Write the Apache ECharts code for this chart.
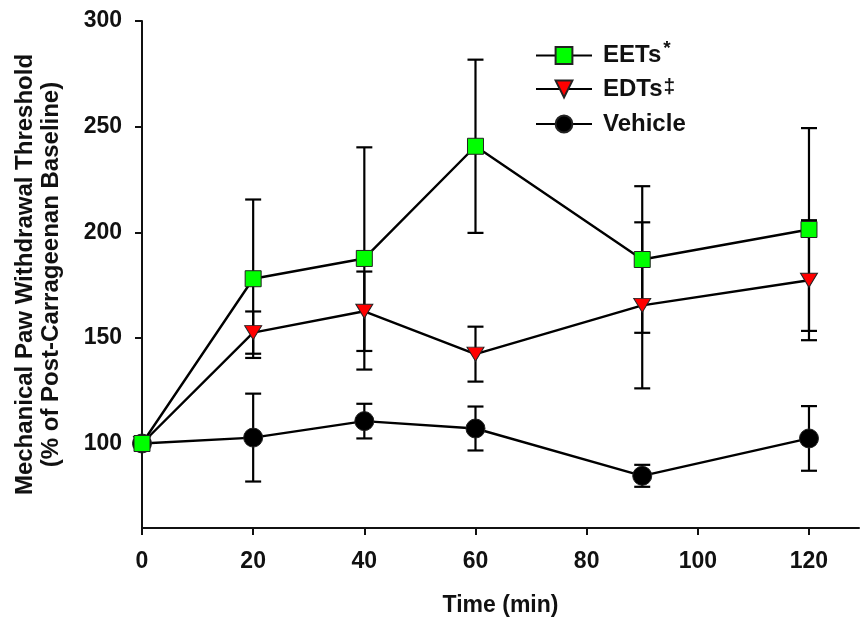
<!DOCTYPE html>
<html>
<head>
<meta charset="utf-8">
<script src="https://cdn.jsdelivr.net/npm/echarts@6/dist/echarts.min.js"></script>
<style>
  html, body { margin: 0; padding: 0; background: #fff; }
  #chart { width: 860px; height: 622px; }
</style>
</head>
<body>
<div id="chart"></div>
<script>
const times = [0, 20, 40, 60, 90, 120];
const eetsMean = [100, 178, 187.6, 240.7, 187.1, 201.3];
const eetsSem = [0, 37.5, 52.6, 41, 34.7, 48];
const edtsMean = [100, 152.5, 162.6, 142.3, 165.4, 177.3];
const edtsSem = [0, 10, 18.8, 13, 39.3, 28.4];
const vehicleMean = [100, 102.8, 110.6, 107.1, 84.7, 102.4];
const vehicleSem = [0, 20.8, 8.2, 10.4, 5.2, 15.3];
const xTicks = [0, 20, 40, 60, 80, 100, 120];
const yTicks = [100, 150, 200, 250, 300];

const FONT = "'Liberation Sans', Arial, sans-serif";

function errData(mean, sem) {
  return times.map((t, i) => [t, mean[i] - sem[i], mean[i] + sem[i]]);
}

function renderErr(params, api) {
  const lo = api.coord([api.value(0), api.value(1)]);
  const hi = api.coord([api.value(0), api.value(2)]);
  if (Math.abs(hi[1] - lo[1]) < 0.5) return null;
  const half = 8;
  const style = {stroke: '#000', lineWidth: 2.2};
  return {
    type: 'group',
    children: [
      {type: 'line', shape: {x1: lo[0], y1: hi[1], x2: lo[0], y2: lo[1]}, style},
      {type: 'line', shape: {x1: lo[0] - half, y1: hi[1], x2: lo[0] + half, y2: hi[1]}, style},
      {type: 'line', shape: {x1: lo[0] - half, y1: lo[1], x2: lo[0] + half, y2: lo[1]}, style}
    ]
  };
}

function errSeries(mean, sem) {
  return {
    type: 'custom',
    renderItem: renderErr,
    data: errData(mean, sem),
    encode: {x: 0, y: [1, 2]},
    z: 1,
    silent: true
  };
}

function lineSeries(name, mean, symbol, size, color, rotate) {
  return {
    name: name,
    type: 'line',
    data: times.map((t, i) => [t, mean[i]]),
    symbol: symbol,
    symbolSize: size,
    symbolRotate: rotate || 0,
    showAllSymbol: true,
    lineStyle: {color: '#000', width: 2.4},
    itemStyle: {color: color, borderColor: '#222', borderWidth: 1, opacity: 1},
    emphasis: {disabled: true},
    z: 3
  };
}

const legendText = {
  fontFamily: FONT,
  fontSize: 24,
  fontWeight: 'bold',
  color: '#111',
  padding: [0, 0, 0, 6],
  rich: {
    n: {fontFamily: FONT, fontSize: 24, fontWeight: 'bold', color: '#111'},
    s: {fontFamily: FONT, fontSize: 19, fontWeight: 'bold', color: '#111', verticalAlign: 'top', padding: [0, 0, 14, 2]},
    d: {fontFamily: FONT, fontSize: 21, fontWeight: 'bold', color: '#111', verticalAlign: 'top', padding: [0, 0, 3, 1]}
  }
};

function legendFor(name, top) {
  return {
    data: [name],
    left: 535,
    top: top,
    padding: 0,
    itemWidth: 56,
    itemHeight: 21,
    selectedMode: false,
    textStyle: legendText,
    formatter: n => n === 'EETs' ? '{n|EETs}{s|*}' : (n === 'EDTs' ? '{n|EDTs}{d|‡}' : '{n|' + n + '}')
  };
}

const axisFont = {fontFamily: FONT, fontSize: 23, fontWeight: 'bold', color: '#111'};

const option = {
  animation: false,
  backgroundColor: '#fff',
  grid: {left: 142, right: 1, top: 21, bottom: 94, containLabel: false, outerBoundsMode: 'none'},
  legend: [legendFor('EETs', 39), legendFor('EDTs', 77), legendFor('Vehicle', 112)],
  xAxis: {
    type: 'value',
    min: 0,
    max: 129,
    name: 'Time (min)',
    nameLocation: 'middle',
    nameGap: 66,
    nameTextStyle: {fontFamily: FONT, fontSize: 23, fontWeight: 'bold', color: '#111'},
    axisLine: {show: true, lineStyle: {color: '#111', width: 2}},
    axisTick: {show: true, length: 7, customValues: xTicks, lineStyle: {color: '#111', width: 2}},
    axisLabel: Object.assign({customValues: xTicks, margin: 22}, axisFont),
    splitLine: {show: false}
  },
  yAxis: {
    type: 'value',
    min: 60,
    max: 300,
    name: 'Mechanical Paw Withdrawal Threshold\n(% of Post-Carrageenan Baseline)',
    nameLocation: 'middle',
    nameGap: 78,
    nameTextStyle: {fontFamily: FONT, fontSize: 24, fontWeight: 'bold', color: '#111', lineHeight: 26},
    axisLine: {show: true, lineStyle: {color: '#111', width: 2}},
    axisTick: {show: true, length: 7, customValues: yTicks, lineStyle: {color: '#111', width: 2}},
    axisLabel: Object.assign({customValues: yTicks, margin: 20}, axisFont),
    splitLine: {show: false}
  },
  series: [
    errSeries(vehicleMean, vehicleSem),
    errSeries(edtsMean, edtsSem),
    errSeries(eetsMean, eetsSem),
    lineSeries('Vehicle', vehicleMean, 'circle', 19, '#000'),
    lineSeries('EDTs', edtsMean, 'triangle', [17, 14], '#ff0000', 180),
    lineSeries('EETs', eetsMean, 'rect', 16, '#00ff00')
  ]
};

const chart = echarts.init(document.getElementById('chart'));
chart.setOption(option);
</script>
</body>
</html>
